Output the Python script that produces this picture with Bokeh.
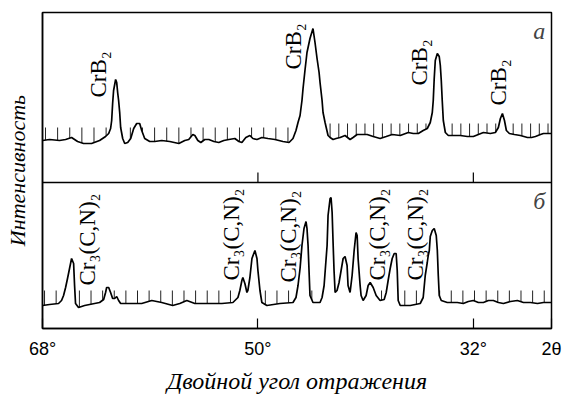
import numpy as np
from bokeh.plotting import figure
from bokeh.models import Range1d, FixedTicker, Span, Label
from bokeh.core.properties import value
from bokeh.embed import file_html
from bokeh.resources import INLINE

# ---- data (2θ in degrees, intensity in arbitrary units above panel bottom) ----
two_theta_a = [68.00, 67.41, 66.58, 66.07, 65.57, 65.07, 64.57, 63.90, 63.23, 62.73,
               62.47, 62.31, 62.22, 62.14, 62.06, 61.89, 61.80, 61.72, 61.64, 61.55,
               61.47, 61.30, 61.13, 60.88, 60.63, 60.38, 60.13, 59.88, 59.71, 59.46,
               59.04, 58.62, 58.04, 57.37, 56.61, 56.11, 55.78, 55.44, 55.27, 55.02,
               54.77, 54.44, 54.10, 53.68, 53.27, 52.85, 52.43, 51.93, 51.59, 51.34,
               51.01, 50.67, 50.42, 50.08, 49.67, 49.16, 48.58, 47.91, 47.40, 47.07,
               46.82, 46.65, 46.48, 46.32, 46.23, 46.07, 45.90, 45.65, 45.40, 45.23,
               45.06, 44.89, 44.81, 44.64, 44.56, 44.39, 44.14, 43.97, 43.72, 43.47,
               43.13, 42.72, 42.30, 42.05, 41.71, 41.29, 40.87, 40.37, 39.79, 39.28,
               38.78, 38.11, 37.44, 37.02, 36.60, 36.19, 35.85, 35.60, 35.43, 35.35,
               35.27, 35.18, 35.01, 34.85, 34.76, 34.68, 34.60, 34.51, 34.34, 34.09,
               33.76, 33.09, 32.50, 32.00, 31.58, 31.16, 30.58, 30.16, 29.91, 29.74,
               29.57, 29.40, 29.24, 28.99, 28.57, 28.07, 27.48, 27.14, 26.81, 26.39,
               26.14, 25.72, 25.47]
intensity_a = [42, 43, 42, 43, 45, 41, 39, 39, 42, 46,
               49, 54, 62, 79, 92, 103, 100, 90, 82, 70,
               55, 44, 39, 40, 44, 54, 59, 59, 52, 44,
               41, 41, 42, 41, 39, 42, 43, 48, 47, 42,
               40, 43, 43, 41, 40, 42, 43, 44, 41, 40,
               45, 47, 44, 43, 45, 44, 43, 41, 40, 44,
               52, 60, 67, 82, 94, 112, 130, 144, 154, 140,
               124, 110, 100, 82, 70, 60, 47, 45, 43, 44,
               45, 47, 43, 45, 48, 48, 48, 46, 44, 46,
               48, 47, 50, 49, 49, 52, 54, 60, 70, 82,
               104, 122, 129, 126, 117, 102, 82, 62, 50, 47,
               47, 47, 46, 46, 48, 50, 49, 50, 55, 64,
               69, 62, 52, 49, 48, 47, 45, 45, 46, 48,
               49, 49, 49]

two_theta_b = [68.00, 67.41, 66.66, 66.41, 66.24, 66.07, 65.91, 65.74, 65.57, 65.40,
               65.32, 65.24, 64.99, 64.48, 63.65, 63.23, 62.89, 62.73, 62.64, 62.47,
               62.31, 62.14, 61.97, 61.80, 61.64, 61.47, 60.80, 59.71, 58.87, 58.04,
               57.12, 56.53, 55.94, 55.27, 54.44, 53.77, 53.01, 52.09, 51.67, 51.51,
               51.34, 51.26, 51.09, 50.92, 50.84, 50.67, 50.50, 50.25, 50.08, 50.00,
               49.83, 49.67, 49.25, 48.16, 47.07, 46.82, 46.65, 46.48, 46.32, 46.15,
               45.98, 45.90, 45.81, 45.73, 45.65, 45.40, 44.81, 44.64, 44.47, 44.39,
               44.22, 44.14, 43.97, 43.89, 43.80, 43.72, 43.64, 43.55, 43.39, 43.22,
               43.05, 42.88, 42.72, 42.55, 42.47, 42.30, 42.13, 41.96, 41.80, 41.71,
               41.63, 41.46, 41.38, 41.21, 40.96, 40.79, 40.62, 40.37, 40.12, 39.79,
               39.45, 39.28, 39.12, 38.95, 38.78, 38.61, 38.45, 38.36, 38.28, 38.11,
               37.27, 36.44, 36.19, 36.02, 35.85, 35.77, 35.68, 35.60, 35.43, 35.27,
               35.10, 35.01, 34.93, 34.85, 34.68, 34.18, 33.34, 32.84, 32.42, 32.00,
               31.58, 31.16, 30.74, 30.33, 29.91, 29.49, 28.90, 28.32, 27.81, 27.23,
               26.64, 26.14, 25.47]
intensity_b = [23, 24, 25, 28, 33, 41, 50, 60, 70, 65,
               43, 25, 21, 23, 25, 26, 29, 36, 41, 41,
               36, 30, 30, 32, 28, 25, 25, 25, 28, 26,
               23, 25, 28, 25, 25, 25, 25, 26, 31, 38,
               48, 51, 45, 36, 38, 51, 70, 78, 70, 58,
               38, 26, 23, 25, 26, 31, 43, 60, 83, 100,
               107, 100, 83, 58, 33, 26, 26, 31, 43, 56,
               83, 113, 130, 131, 116, 86, 58, 36, 38, 46,
               58, 70, 72, 63, 43, 36, 53, 78, 96, 93,
               70, 43, 33, 28, 33, 43, 46, 41, 33, 28,
               29, 36, 48, 60, 70, 75, 75, 58, 28, 23,
               23, 25, 31, 53, 66, 73, 78, 92, 98, 100,
               93, 78, 53, 33, 28, 26, 26, 25, 27, 28,
               26, 26, 28, 28, 26, 25, 27, 28, 26, 26,
               25, 26, 26]

axis_ticks = [68, 50, 32, 25.47]
axis_tick_labels = ["68°", "50°", "32°", "2θ"]

label_a_text = ["CrB₂", "CrB₂", "CrB₂", "CrB₂"]
label_a_x = [63.34, 47.02, 36.47, 29.94]
label_a_y = [85, 113, 97, 77]

label_b_text = ["Cr₃(C,N)₂"] * 5
label_b_x = [64.26, 52.21, 47.44, 39.98, 36.80]
label_b_y = [43, 48, 46, 48, 48]

# scale marks drawn along the baseline of each pattern
marks_a_left = np.arange(67.75, 47.3, -1.013)
marks_a_right = np.arange(43.97, 25.6, -0.7284)
marks_b = np.arange(67.83, 26.0, -0.971)

PANEL_B_TOP = 146          # panel b occupies 0..146, panel a 146..316
MARK_TOP_A_LEFT = 55
MARK_TOP_A_RIGHT = 59
MARK_TOP_B = 38

SERIF = "Liberation Serif"

p = figure(width=562, height=394, frame_width=509, frame_height=316,
           x_range=Range1d(68, 25.47), y_range=Range1d(0, 316),
           output_backend="svg", toolbar_location=None,
           min_border_left=42, min_border_right=11, min_border_top=12,
           min_border_bottom=66)
p.background_fill_color = "white"
p.border_fill_color = "white"
p.xgrid.visible = False
p.ygrid.visible = False
p.outline_line_color = "black"
p.outline_line_width = 1.5

# x axis
p.xaxis.ticker = FixedTicker(ticks=axis_ticks)
p.xaxis.major_label_overrides = {t: s for t, s in zip(axis_ticks, axis_tick_labels)}
p.xaxis.major_tick_in = 10
p.xaxis.major_tick_out = 0
p.xaxis.major_tick_line_color = "black"
p.xaxis.major_tick_line_width = 1.2
p.xaxis.axis_line_width = 1.5
p.xaxis.major_label_text_font = "Liberation Sans"
p.xaxis.major_label_text_font_size = "18px"
p.xaxis.major_label_text_color = "black"
p.xaxis.major_label_standoff = 10
p.xaxis.axis_label = "Двойной угол отражения"
p.xaxis.axis_label_text_font = SERIF
p.xaxis.axis_label_text_font_style = "italic"
p.xaxis.axis_label_text_font_size = "24px"
p.xaxis.axis_label_text_color = "black"
p.xaxis.axis_label_standoff = 6

# y axis (no ticks)
p.yaxis.ticker = FixedTicker(ticks=[])
p.yaxis.axis_line_width = 1.5
p.yaxis.major_tick_line_color = None
p.yaxis.minor_tick_line_color = None
p.yaxis.axis_label = "Интенсивность"
p.yaxis.axis_label_text_font = SERIF
p.yaxis.axis_label_text_font_style = "italic"
p.yaxis.axis_label_text_font_size = "22px"
p.yaxis.axis_label_text_color = "black"
p.yaxis.axis_label_standoff = 13

# panel divider
p.add_layout(Span(location=PANEL_B_TOP, dimension="width",
                  line_color="black", line_width=1.5))
# inner ticks of panel a at 50° and 32°
p.segment(x0=axis_ticks[1:3], y0=[PANEL_B_TOP] * 2, x1=axis_ticks[1:3],
          y1=[PANEL_B_TOP + 10] * 2, line_color="black", line_width=1.2)

ya = np.array(intensity_a) + PANEL_B_TOP
yb = np.array(intensity_b)
xa = np.array(two_theta_a)
xb = np.array(two_theta_b)

# baseline scale marks
def marks(xs, top, cx, cy, offset):
    xs = np.asarray(xs)
    base = np.interp(xs, cx[::-1], cy[::-1])
    keep = base < top - 1
    xs = xs[keep]
    return xs, base[keep] + offset, np.full(len(xs), top + offset)

for xs, top, cx, cy, off in [(marks_a_left, MARK_TOP_A_LEFT, xa, np.array(intensity_a), PANEL_B_TOP),
                             (marks_a_right, MARK_TOP_A_RIGHT, xa, np.array(intensity_a), PANEL_B_TOP),
                             (marks_b, MARK_TOP_B, xb, yb, 0)]:
    mx, y0, y1 = marks(xs, top, cx, cy, off)
    p.segment(x0=mx, y0=y0, x1=mx, y1=y1, line_color="#222222", line_width=1)

p.line(xa, ya, line_color="black", line_width=1.7)
p.line(xb, yb, line_color="black", line_width=1.7)

# phase labels
p.text(x=label_a_x, y=[v + PANEL_B_TOP for v in label_a_y], text=label_a_text,
       angle=np.pi / 2, text_font=value(SERIF), text_font_size="23px",
       text_align="left", text_baseline="alphabetic", text_color="black")
p.text(x=label_b_x, y=label_b_y, text=label_b_text,
       angle=np.pi / 2, text_font=value(SERIF), text_font_size="23px",
       text_align="left", text_baseline="alphabetic", text_color="black")

# panel letters
p.add_layout(Label(x=26.5, y=298, text="а", text_font=SERIF, text_font_style="italic",
                   text_font_size="24px", text_align="center", text_baseline="middle"))
p.add_layout(Label(x=26.5, y=128, text="б", text_font=SERIF, text_font_style="italic",
                   text_font_size="24px", text_align="center", text_baseline="middle"))

open("out.html", "w").write(file_html(p, INLINE))
